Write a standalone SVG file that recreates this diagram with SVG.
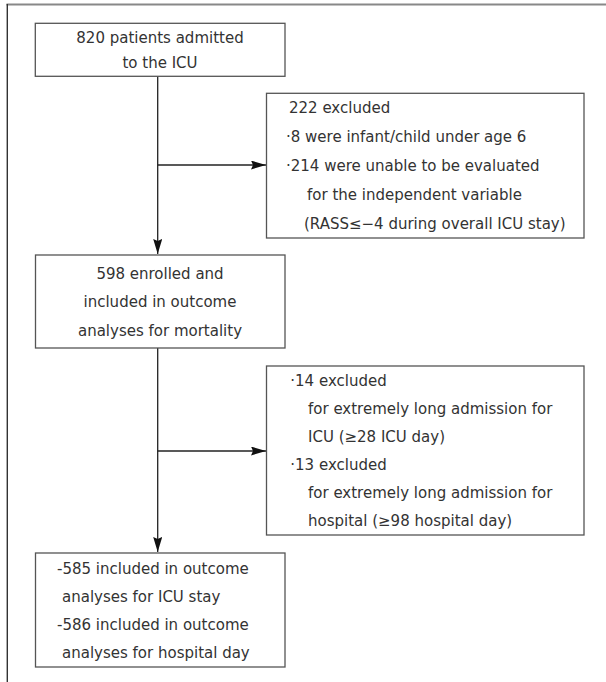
<svg xmlns="http://www.w3.org/2000/svg" width="606" height="682" viewBox="0 0 606 682">
<defs>
<style>
.box{fill:#fff;stroke:#555;stroke-width:1.3}
.t{font-family:"DejaVu Sans",sans-serif;font-size:15px;fill:#333}
.c{text-anchor:middle}
.ln{fill:none;stroke:#222;stroke-width:1.3}
.frame{fill:none}
</style>
<marker id="ah" markerUnits="userSpaceOnUse" markerWidth="16" markerHeight="10" refX="15" refY="4.5" orient="auto">
<path d="M0,0 L15,4.5 L0,9 L2,4.5 z" fill="#111"/>
</marker>
</defs>
<rect width="606" height="682" fill="#fff"/>
<g id="frame">
<line x1="6.5" y1="4.5" x2="606" y2="4.5" stroke="#888" stroke-width="2"/>
<line x1="7.3" y1="4" x2="7.3" y2="682" stroke="#333" stroke-width="1.4"/>
</g>
<g id="connectors">
<line class="ln" x1="157.7" y1="76" x2="157.7" y2="254" marker-end="url(#ah)"/>
<line class="ln" x1="157.7" y1="165" x2="266" y2="165" marker-end="url(#ah)"/>
<line class="ln" x1="157.7" y1="348" x2="157.7" y2="552" marker-end="url(#ah)"/>
<line class="ln" x1="157.7" y1="451" x2="266" y2="451" marker-end="url(#ah)"/>
</g>
<g id="n1">
<rect class="box" x="35.3" y="23.3" width="249.7" height="53"/>
<text class="t c" x="160" y="42.5">820 patients admitted</text>
<text class="t c" x="160" y="67.5">to the ICU</text>
</g>
<g id="n2">
<rect class="box" x="266.5" y="93.3" width="317.5" height="144.7"/>
<text class="t" x="289" y="112.5">222 excluded</text>
<text class="t" x="286" y="141.5">·8 were infant/child under age 6</text>
<text class="t" x="286" y="170.5">·214 were unable to be evaluated</text>
<text class="t" x="307" y="199.5">for the independent variable</text>
<text class="t" x="304" y="228.5">(RASS≤−4 during overall ICU stay)</text>
</g>
<g id="n3">
<rect class="box" x="35.5" y="255" width="249.5" height="93"/>
<text class="t c" x="160" y="278.5">598 enrolled and</text>
<text class="t c" x="160" y="307">included in outcome</text>
<text class="t c" x="160" y="335.5">analyses for mortality</text>
</g>
<g id="n4">
<rect class="box" x="266.5" y="366" width="317.5" height="169"/>
<text class="t" x="290.3" y="386">·14 excluded</text>
<text class="t" x="308" y="414">for extremely long admission for</text>
<text class="t" x="308" y="442">ICU (≥28 ICU day)</text>
<text class="t" x="290.3" y="470">·13 excluded</text>
<text class="t" x="308" y="498">for extremely long admission for</text>
<text class="t" x="308" y="526">hospital (≥98 hospital day)</text>
</g>
<g id="n5">
<rect class="box" x="35.5" y="553" width="249.5" height="114"/>
<text class="t" x="57" y="574">-585 included in outcome</text>
<text class="t" x="62" y="602">analyses for ICU stay</text>
<text class="t" x="57" y="630">-586 included in outcome</text>
<text class="t" x="62" y="658">analyses for hospital day</text>
</g>
</svg>
